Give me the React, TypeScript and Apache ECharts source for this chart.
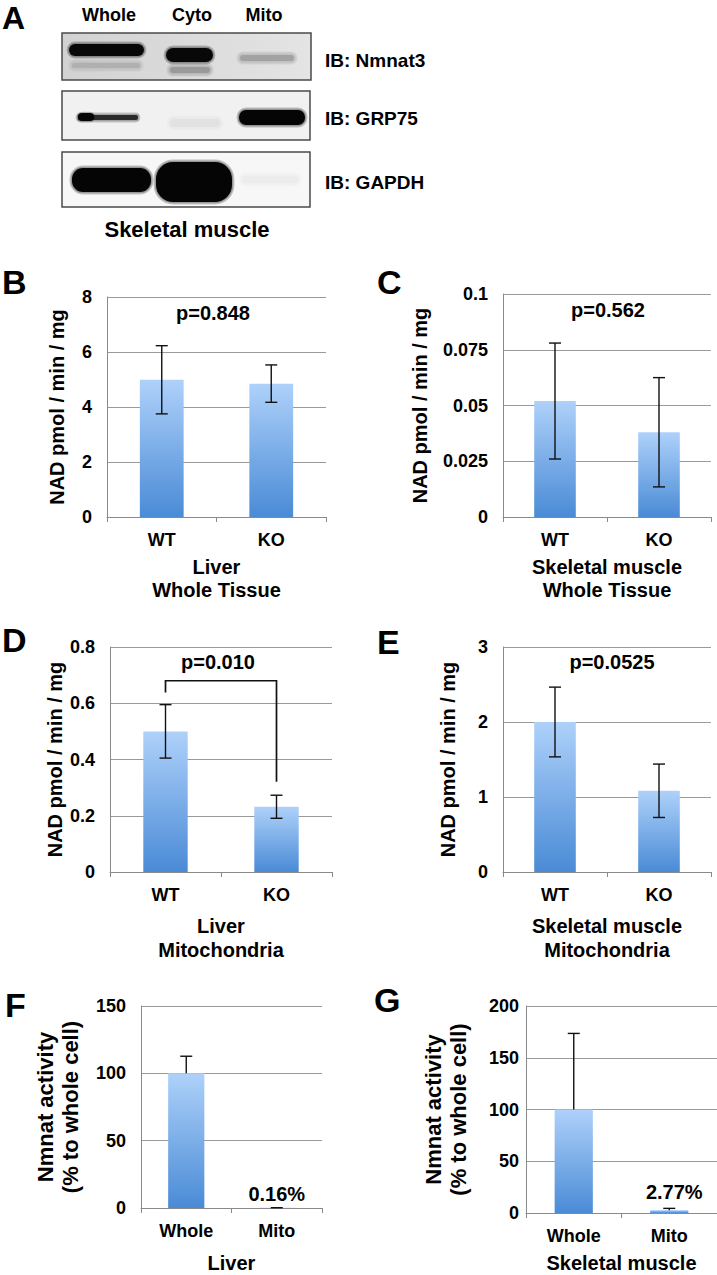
import React, { useEffect, useRef } from 'react';
import * as echarts from 'echarts';

const FONT = "'Liberation Sans', Arial, Helvetica, sans-serif";

// ---------- Panel A (western blot) ----------
const laneLabels = ['Whole', 'Cyto', 'Mito'];
const blotAntibodies = ['IB: Nmnat3', 'IB: GRP75', 'IB: GAPDH'];
const blotTissue = 'Skeletal muscle';

// ---------- Panels B-E: NAD synthesis ----------
const genotypes = ['WT', 'KO'];
const liverWholeMean = [4.99, 4.85];
const liverWholeSD = [1.24, 0.68];
const muscleWholeMean = [0.052, 0.038];
const muscleWholeSD = [0.026, 0.0245];
const liverMitoMean = [0.5, 0.232];
const liverMitoSD = [0.095, 0.041];
const muscleMitoMean = [2.0, 1.083];
const muscleMitoSD = [0.465, 0.356];
const pValues = ['p=0.848', 'p=0.562', 'p=0.010', 'p=0.0525'];
const liverMitoBracket = [[0, 0.638], [0, 0.68], [1, 0.68], [1, 0.321]];

// ---------- Panels F-G: Nmnat activity ----------
const fractions = ['Whole', 'Mito'];
const liverActivity = [100, 0.16];
const liverActivityErr = [12.7, 0.05];
const liverActivityLabels = ['', '0.16%'];
const muscleActivity = [100, 2.77];
const muscleActivityErr = [73.5, 1.7];
const muscleActivityLabels = ['', '2.77%'];

// y axis ranges [min, max, interval]
const yRangeB = [0, 8, 2];
const yRangeC = [0, 0.1, 0.025];
const yRangeD = [0, 0.8, 0.2];
const yRangeE = [0, 3, 1];
const yRangeF = [0, 150, 50];
const yRangeG = [0, 200, 50];

const nadAxisName = 'NAD pmol / min / mg';
const activityAxisName = 'Nmnat activity\n(% to whole cell)';

const barGradient = () =>
  new echarts.graphic.LinearGradient(0, 0, 0, 1, [
    { offset: 0, color: '#aed1fa' },
    { offset: 1, color: '#4a8bd6' },
  ]);

const errorRender = (capLow: boolean) => (params: any, api: any) => {
  const i = api.value(0);
  const lo = api.coord([i, api.value(1)]);
  const hi = api.coord([i, api.value(2)]);
  const w = 6;
  const style = { stroke: '#111', lineWidth: 1.4, fill: null };
  const children: any[] = [
    { type: 'line', shape: { x1: hi[0], y1: hi[1], x2: lo[0], y2: lo[1] }, style },
    { type: 'line', shape: { x1: hi[0] - w, y1: hi[1], x2: hi[0] + w, y2: hi[1] }, style },
  ];
  if (capLow) {
    children.push({ type: 'line', shape: { x1: lo[0] - w, y1: lo[1], x2: lo[0] + w, y2: lo[1] }, style });
  }
  return { type: 'group', children };
};

const fmt = (v: number) => String(parseFloat(v.toFixed(4)));

type Panel = {
  grid: any;
  cats: string[];
  mean: number[];
  err: number[];
  both: boolean;
  y: number[];
  yName: string;
  yGap: number;
  yNameLH: number;
  yNameSize: number;
  labelMargin: number;
  xName: string;
  xGap: number;
  xNameLH: number;
  labels?: string[];
  labelDist?: number;
  labelOffset?: number[];
};

const panels: Panel[] = [
  {
    grid: { left: 107, top: 297, width: 219, height: 220 },
    cats: genotypes, mean: liverWholeMean, err: liverWholeSD, both: true, y: yRangeB,
    yName: nadAxisName, yGap: 39, yNameLH: 22, yNameSize: 20, labelMargin: 15,
    xName: 'Liver\nWhole Tissue', xGap: 38, xNameLH: 23,
  },
  {
    grid: { left: 503, top: 294, width: 208, height: 223 },
    cats: genotypes, mean: muscleWholeMean, err: muscleWholeSD, both: true, y: yRangeC,
    yName: nadAxisName, yGap: 72, yNameLH: 22, yNameSize: 20, labelMargin: 15,
    xName: 'Skeletal muscle\nWhole Tissue', xGap: 38, xNameLH: 23,
  },
  {
    grid: { left: 110, top: 647, width: 222, height: 225 },
    cats: genotypes, mean: liverMitoMean, err: liverMitoSD, both: true, y: yRangeD,
    yName: nadAxisName, yGap: 43, yNameLH: 22, yNameSize: 20, labelMargin: 15,
    xName: 'Liver\nMitochondria', xGap: 42, xNameLH: 24,
  },
  {
    grid: { left: 503, top: 647, width: 208, height: 225 },
    cats: genotypes, mean: muscleMitoMean, err: muscleMitoSD, both: true, y: yRangeE,
    yName: nadAxisName, yGap: 44, yNameLH: 22, yNameSize: 20, labelMargin: 15,
    xName: 'Skeletal muscle\nMitochondria', xGap: 42, xNameLH: 24,
  },
  {
    grid: { left: 141, top: 1006, width: 181, height: 207 },
    cats: fractions, mean: liverActivity, err: liverActivityErr, both: false, y: yRangeF,
    yName: activityAxisName, yGap: 58, yNameLH: 25, yNameSize: 22, labelMargin: 15,
    xName: 'Liver', xGap: 43, xNameLH: 23,
    labels: liverActivityLabels, labelDist: 4, labelOffset: [0, 0],
  },
  {
    grid: { left: 526, top: 1006, width: 191, height: 208 },
    cats: fractions, mean: muscleActivity, err: muscleActivityErr, both: false, y: yRangeG,
    yName: activityAxisName, yGap: 55, yNameLH: 25, yNameSize: 22, labelMargin: 7,
    xName: 'Skeletal muscle', xGap: 38, xNameLH: 23,
    labels: muscleActivityLabels, labelDist: 8, labelOffset: [5, 0],
  },
];

const boldText = (size: number) => ({
  fontFamily: FONT,
  fontWeight: 'bold' as const,
  fontSize: size,
  color: '#000',
});

function buildOption() {
  const grids: any[] = [];
  const xAxes: any[] = [];
  const yAxes: any[] = [];
  const series: any[] = [];

  panels.forEach((p, k) => {
    grids.push({ ...p.grid, containLabel: false });
    xAxes.push({
      type: 'category',
      gridIndex: k,
      data: p.cats,
      axisLine: { show: true, lineStyle: { color: '#8a8a8a', width: 1 } },
      axisTick: { show: true, length: 5, lineStyle: { color: '#8a8a8a' } },
      axisLabel: { ...boldText(18), margin: 14 },
      name: p.xName,
      nameLocation: 'middle',
      nameGap: p.xGap,
      nameTextStyle: { ...boldText(20), lineHeight: p.xNameLH },
    });
    yAxes.push({
      type: 'value',
      gridIndex: k,
      min: p.y[0],
      max: p.y[1],
      interval: p.y[2],
      axisLine: { show: true, lineStyle: { color: '#8a8a8a', width: 1 } },
      axisTick: { show: false },
      splitLine: { show: true, lineStyle: { color: '#9a9a9a', width: 1 } },
      axisLabel: { ...boldText(18), margin: p.labelMargin, formatter: fmt },
      name: p.yName,
      nameLocation: 'middle',
      nameRotate: 90,
      nameGap: p.yGap,
      nameTextStyle: { ...boldText(p.yNameSize), lineHeight: p.yNameLH },
    });
    series.push({
      type: 'bar',
      xAxisIndex: k,
      yAxisIndex: k,
      barWidth: '40%',
      data: p.mean.map((v, i) => ({
        value: v,
        label: p.labels && p.labels[i]
          ? {
              show: true,
              position: 'top',
              distance: p.labelDist,
              offset: p.labelOffset,
              formatter: p.labels[i],
              ...boldText(20),
            }
          : { show: false },
      })),
      itemStyle: { color: barGradient() },
      z: 2,
    });
    series.push({
      type: 'custom',
      xAxisIndex: k,
      yAxisIndex: k,
      renderItem: errorRender(p.both),
      data: p.mean.map((v, i) =>
        p.both ? [i, v - p.err[i], v + p.err[i]] : [i, v, v + p.err[i]]
      ),
      clip: false,
      z: 5,
    });
  });

  // significance bracket in D
  series.push({
    type: 'custom',
    xAxisIndex: 2,
    yAxisIndex: 2,
    clip: false,
    z: 6,
    data: [[0, liverMitoBracket[1][1]]],
    renderItem: (params: any, api: any) => ({
      type: 'polyline',
      shape: { points: liverMitoBracket.map((pt) => api.coord(pt)) },
      style: { stroke: '#111', lineWidth: 1.7, fill: null },
    }),
  });

  const txt = (text: string, x: number, y: number, size: number, align = 'center') => ({
    type: 'text',
    x,
    y,
    z: 20,
    style: {
      text,
      fill: '#000',
      font: `bold ${size}px ${FONT}`,
      align,
      verticalAlign: 'middle',
    },
  });

  // soft-edged blot band: opaque core plus faint halo layers
  const band = (x: number, y: number, w: number, h: number, r: number, fill: string, soft: number) => {
    const out: any[] = [];
    for (let j = soft; j >= 1; j--) {
      const e = j * 1.2;
      out.push({
        type: 'rect',
        z: 10,
        shape: { x: x - e, y: y - e, width: w + 2 * e, height: h + 2 * e, r: r + e },
        style: { fill, opacity: 0.22 },
      });
    }
    out.push({
      type: 'rect',
      z: 10,
      shape: { x, y, width: w, height: h, r },
      style: { fill },
    });
    return out;
  };

  const box = (x: number, y: number, w: number, h: number, bg: any) => ({
    type: 'rect',
    z: 9,
    shape: { x, y, width: w, height: h },
    style: { fill: bg },
  });
  const border = (x: number, y: number, w: number, h: number) => ({
    type: 'rect',
    z: 12,
    shape: { x, y, width: w, height: h },
    style: { fill: null, stroke: '#4a4a4a', lineWidth: 1.5 },
  });

  const graphic: any[] = [
    // letters
    txt('A', 2, 18, 32, 'left'),
    txt('B', 2, 282, 34, 'left'),
    txt('C', 377, 282, 34, 'left'),
    txt('D', 2, 640, 34, 'left'),
    txt('E', 377, 642, 34, 'left'),
    txt('F', 5, 1005, 34, 'left'),
    txt('G', 374, 1000, 34, 'left'),
    // blot lane labels
    txt(laneLabels[0], 109, 15, 18),
    txt(laneLabels[1], 192, 15, 18),
    txt(laneLabels[2], 264, 15, 18),
    txt(blotAntibodies[0], 325, 60, 19, 'left'),
    txt(blotAntibodies[1], 325, 118, 19, 'left'),
    txt(blotAntibodies[2], 325, 182, 19, 'left'),
    txt(blotTissue, 187, 229, 22),
    // blot backgrounds
    box(62, 33, 249, 47, new echarts.graphic.LinearGradient(0, 0, 1, 0, [
      { offset: 0, color: '#d2d2d2' },
      { offset: 1, color: '#e4e4e4' },
    ])),
    box(62, 91, 248, 49, '#f1f1f1'),
    box(62, 152, 248, 55, '#f7f7f7'),
    // Nmnat3 bands
    ...band(72, 63, 68, 5, 2, '#b0b0b0', 3),
    ...band(170, 67, 40, 6, 3, '#9a9a9a', 3),
    ...band(69, 44, 75, 12, 6, '#080808', 2),
    ...band(166, 48, 47, 14, 7, '#080808', 2),
    ...band(240, 55, 54, 6, 3, '#a2a2a2', 3),
    // GRP75 bands
    ...band(170, 119, 50, 8, 4, '#e2e2e2', 3),
    ...band(78, 115, 60, 5, 2, '#2a2a2a', 2),
    ...band(78, 113, 16, 8, 4, '#050505', 1),
    ...band(239, 110, 66, 15, 7, '#050505', 2),
    // GAPDH bands
    ...band(72, 168, 79, 24, 11, '#050505', 2),
    ...band(156, 162, 76, 40, 17, '#050505', 2),
    ...band(242, 176, 56, 7, 3, '#ececec', 3),
    // blot borders
    border(62, 33, 249, 47),
    border(62, 91, 248, 49),
    border(62, 152, 248, 55),
    // p-values
    txt(pValues[0], 213, 313, 20),
    txt(pValues[1], 608, 310, 20),
    txt(pValues[2], 218, 662, 20),
    txt(pValues[3], 612, 662, 20),
  ];

  return {
    animation: false,
    backgroundColor: '#ffffff',
    textStyle: { fontFamily: FONT },
    grid: grids,
    xAxis: xAxes,
    yAxis: yAxes,
    series,
    graphic,
  };
}

export default function App() {
  const ref = useRef<HTMLDivElement>(null);
  useEffect(() => {
    if (!ref.current) return;
    const chart = echarts.init(ref.current, undefined, { renderer: 'svg' });
    chart.setOption(buildOption() as any);
    return () => chart.dispose();
  }, []);
  return (
    <div
      ref={ref}
      style={{ position: 'absolute', left: 0, top: 0, width: 717, height: 1275, background: '#fff' }}
    />
  );
}
